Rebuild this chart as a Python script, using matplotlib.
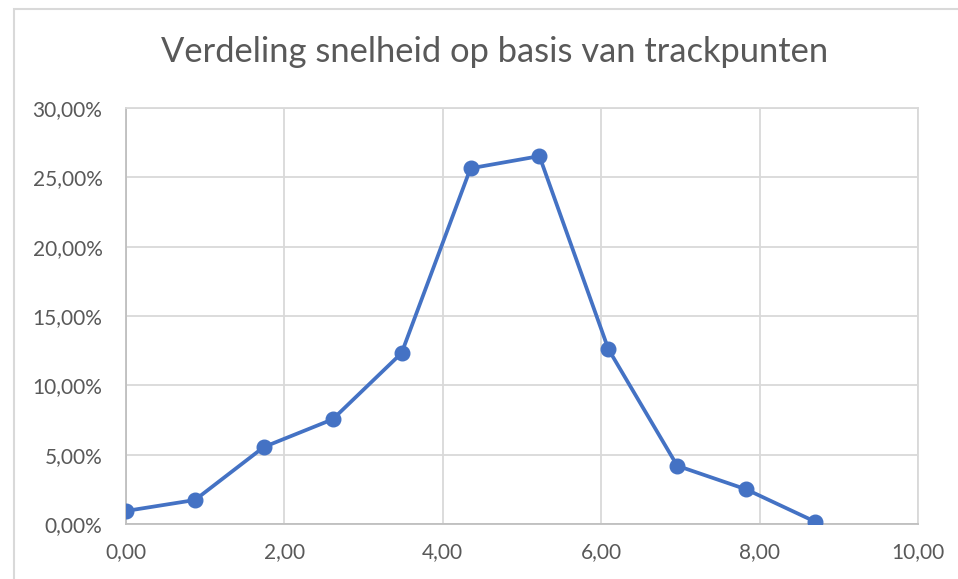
import matplotlib.pyplot as plt
from matplotlib.ticker import FuncFormatter
from matplotlib.patches import Rectangle

snelheid = [0.00, 0.87, 1.74, 2.61, 3.48, 4.35, 5.22, 6.09, 6.96, 7.83, 8.70]
aandeel = [0.94, 1.73, 5.55, 7.55, 12.33, 25.65, 26.53, 12.62, 4.20, 2.50, 0.17]

plt.rcParams['font.family'] = ['Lato', 'DejaVu Sans']
tekst = '#595959'
blauw = '#4472C4'

fig = plt.figure(figsize=(9.58, 5.79), dpi=100)
ax = fig.add_axes([126/958, 1-524/579, (918-126)/958, (524-108)/579])

# chart border like excel
fig.patches.append(Rectangle((14/958, -0.1), 1.1, 1.1 - 9/579, transform=fig.transFigure,
                             fill=False, edgecolor='#d9d9d9', linewidth=1.5))

ax.plot(snelheid, aandeel, color=blauw, linewidth=2.7, marker='o', markersize=10.5, zorder=3)

ax.set_xlim(0, 10)
ax.set_ylim(0, 30)
ax.set_xticks(range(0, 11, 2))
ax.set_yticks(range(0, 31, 5))
ax.xaxis.set_major_formatter(FuncFormatter(lambda v, p: f'{v:.2f}'.replace('.', ',')))
ax.yaxis.set_major_formatter(FuncFormatter(lambda v, p: f'{v:.2f}%'.replace('.', ',')))
ax.grid(True, color='#d9d9d9', linewidth=1.3)
ax.set_axisbelow(True)
for s in ['top', 'right']:
    ax.spines[s].set_color('#d9d9d9')
    ax.spines[s].set_linewidth(1.3)
ax.spines['left'].set_color('#bfbfbf')
ax.spines['bottom'].set_color('#bfbfbf')
ax.spines['left'].set_linewidth(1.3)
ax.spines['bottom'].set_linewidth(1.3)
ax.tick_params(length=0, labelsize=15, colors=tekst)
ax.tick_params(axis='y', pad=17)
ax.tick_params(axis='x', pad=13)
for lab in ax.get_xticklabels() + ax.get_yticklabels():
    lab.set_clip_on(False)

fig.text(495/958, 1-52/579, 'Verdeling snelheid op basis van trackpunten',
         ha='center', va='center', fontsize=24.8, color=tekst)

fig.savefig('out.png', dpi=100)
